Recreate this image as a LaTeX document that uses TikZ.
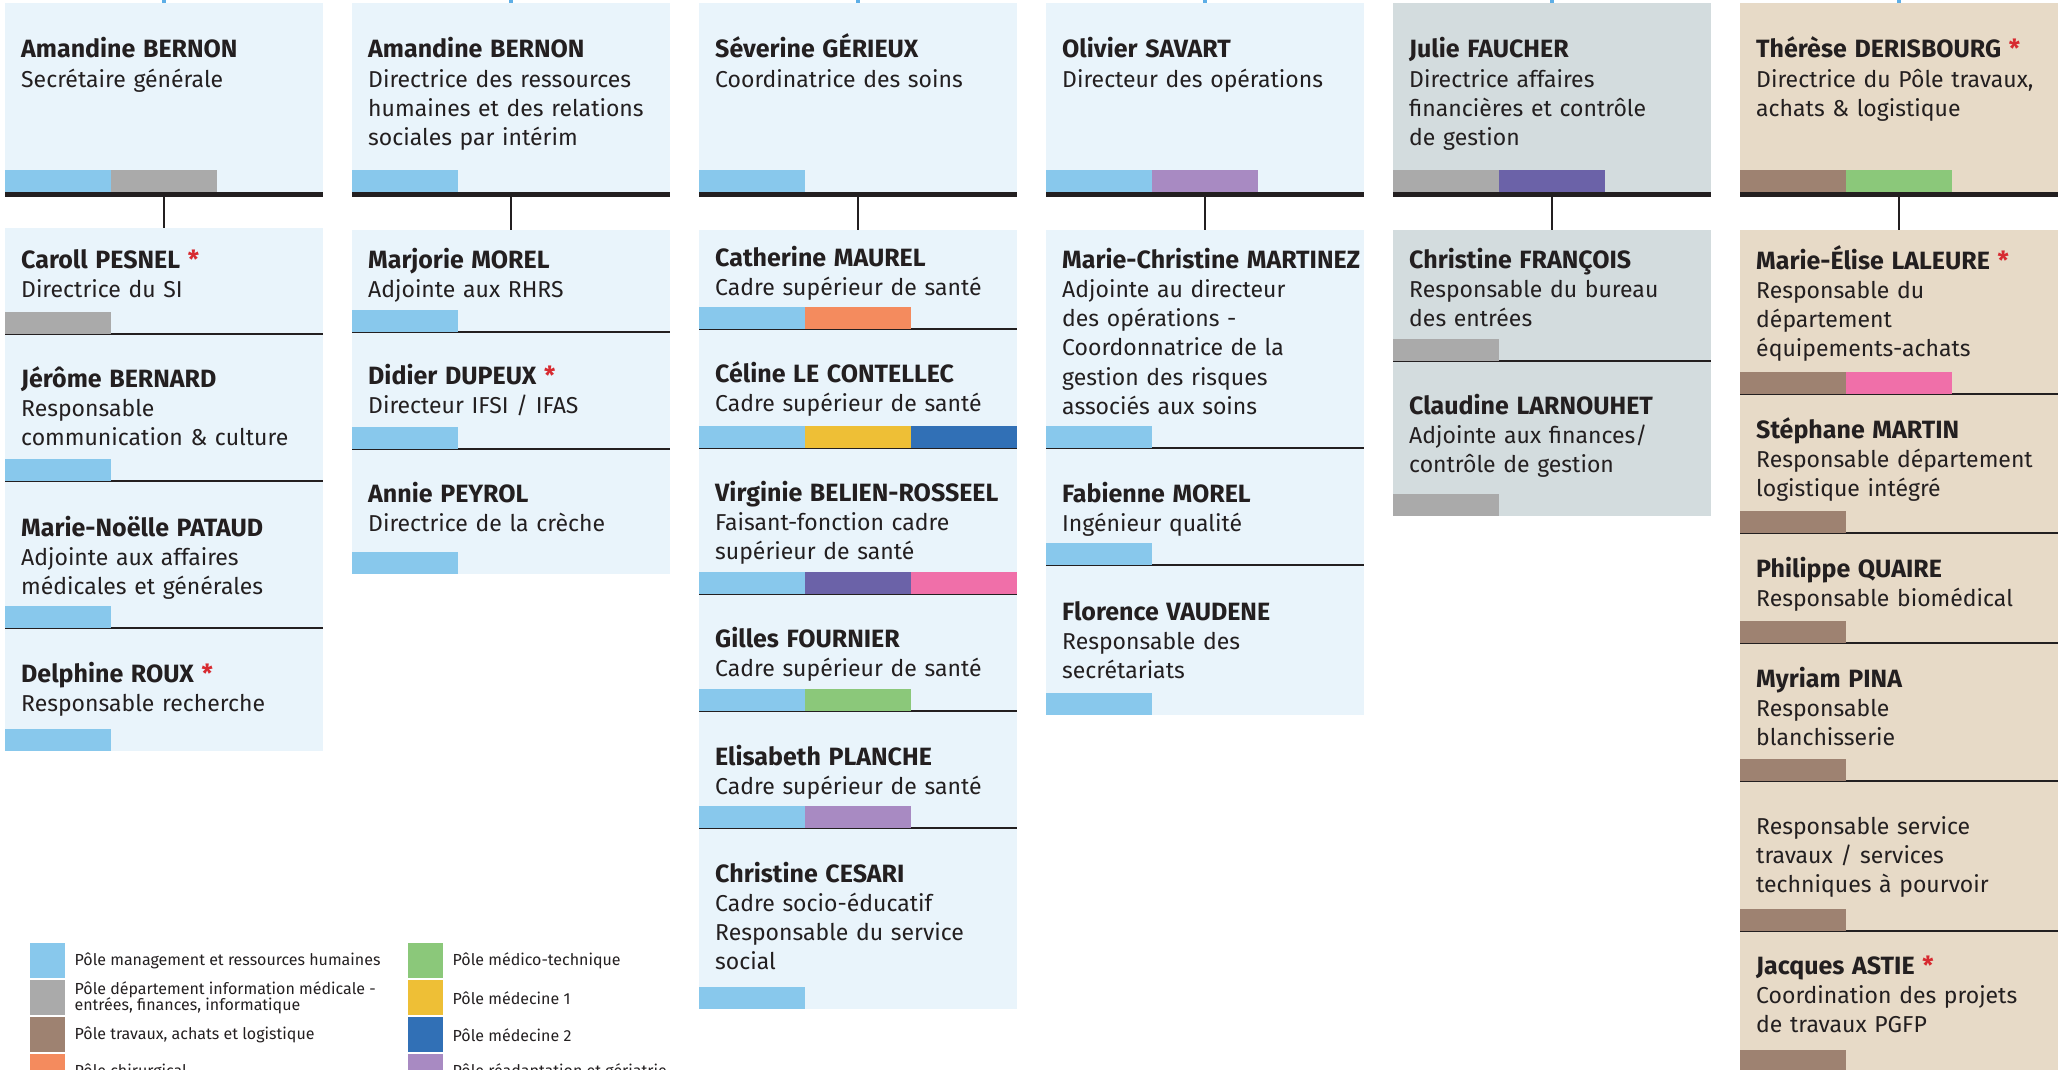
\documentclass[tikz,border=0pt]{standalone}
\usepackage{fontspec}
\setmainfont{Fira Sans}
\usetikzlibrary{positioning}

\definecolor{fondbleu}{HTML}{E9F4FB}
\definecolor{fondgris}{HTML}{D3DCDE}
\definecolor{fondbeige}{HTML}{E7DAC7}
\definecolor{encre}{HTML}{231F20}
\definecolor{rouge}{HTML}{D72A30}
\definecolor{bleufilet}{HTML}{5DAEE6}
\definecolor{pmanag}{HTML}{88C8EC}
\definecolor{pdim}{HTML}{AAAAAA}
\definecolor{ptravaux}{HTML}{9E8271}
\definecolor{pchir}{HTML}{F48B5E}
\definecolor{pmedtech}{HTML}{8BC87A}
\definecolor{pmed1}{HTML}{EEBF36}
\definecolor{pmed2}{HTML}{3170B6}
\definecolor{preadap}{HTML}{A88AC2}
\definecolor{pindigo}{HTML}{6B62A8}
\definecolor{prose}{HTML}{F06FA9}

\newcommand{\nom}[1]{{\fontsize{25}{29.3}\selectfont\bfseries #1}}
\newcommand{\etoile}{\textcolor{rouge}{*}}
\newcommand{\bandes}[2]{\foreach \coul [count=\i from 0] in {#2}
  {\fill[\coul] ([xshift=\i*106pt]#1.south west) rectangle ++(106,-22);}}

\begin{document}
\begin{tikzpicture}[x=1pt, y=-1pt,
    boite/.style={anchor=north west, minimum width=318pt, inner sep=0pt, outer sep=0pt},
    chef/.style={boite, minimum height=189pt},
    txt/.style={anchor=base west, inner sep=0pt, text width=330pt, align=left, text=encre,
      font=\fontsize{23}{29.3}\selectfont},
    lien/.style={draw=encre, line width=2.5pt},
    filet/.style={draw=encre, line width=2pt},
    amont/.style={draw=bleufilet, line width=4pt},
    case/.style={minimum size=35pt, inner sep=0pt, anchor=north west},
    legende/.style={inner sep=0pt, anchor=west, align=left, text=encre,
      font=\fontsize{16}{16.5}\selectfont}]

    \useasboundingbox (0,0) rectangle (2065,1070);
    \clip (0,0) rectangle (2065,1070);

    % Directions
    \node[chef, fill=fondbleu] (h1) at (5,3) {};
    \node[chef, fill=fondbleu] (h2) at (352,3) {};
    \node[chef, fill=fondbleu] (h3) at (699,3) {};
    \node[chef, fill=fondbleu] (h4) at (1046,3) {};
    \node[chef, fill=fondgris] (h5) at (1393,3) {};
    \node[chef, fill=fondbeige] (h6) at (1740,3) {};

    % Colonne 1
    \node[boite, fill=fondbleu, minimum height=106pt] (c1a) at (5,228) {};
    \node[boite, fill=fondbleu, minimum height=147pt, below=0pt of c1a] (c1b) {};
    \node[boite, fill=fondbleu, minimum height=147pt, below=0pt of c1b] (c1c) {};
    \node[boite, fill=fondbleu, minimum height=123pt, below=0pt of c1c] (c1d) {};

    % Colonne 2
    \node[boite, fill=fondbleu, minimum height=102pt] (c2a) at (352,230) {};
    \node[boite, fill=fondbleu, minimum height=117pt, below=0pt of c2a] (c2b) {};
    \node[boite, fill=fondbleu, minimum height=125pt, below=0pt of c2b] (c2c) {};

    % Colonne 3
    \node[boite, fill=fondbleu, minimum height=99pt] (c3a) at (699,230) {};
    \node[boite, fill=fondbleu, minimum height=119pt, below=0pt of c3a] (c3b) {};
    \node[boite, fill=fondbleu, minimum height=146pt, below=0pt of c3b] (c3c) {};
    \node[boite, fill=fondbleu, minimum height=117pt, below=0pt of c3c] (c3d) {};
    \node[boite, fill=fondbleu, minimum height=117pt, below=0pt of c3d] (c3e) {};
    \node[boite, fill=fondbleu, minimum height=181pt, below=0pt of c3e] (c3f) {};

    % Colonne 4
    \node[boite, fill=fondbleu, minimum height=218pt] (c4a) at (1046,230) {};
    \node[boite, fill=fondbleu, minimum height=117pt, below=0pt of c4a] (c4b) {};
    \node[boite, fill=fondbleu, minimum height=150pt, below=0pt of c4b] (c4c) {};

    % Colonne 5
    \node[boite, fill=fondgris, minimum height=131pt] (c5a) at (1393,230) {};
    \node[boite, fill=fondgris, minimum height=155pt, below=0pt of c5a] (c5b) {};

    % Colonne 6
    \node[boite, fill=fondbeige, minimum height=164pt] (c6a) at (1740,230) {};
    \node[boite, fill=fondbeige, minimum height=139pt, below=0pt of c6a] (c6b) {};
    \node[boite, fill=fondbeige, minimum height=110pt, below=0pt of c6b] (c6c) {};
    \node[boite, fill=fondbeige, minimum height=138pt, below=0pt of c6c] (c6d) {};
    \node[boite, fill=fondbeige, minimum height=150pt, below=0pt of c6d] (c6e) {};
    \node[boite, fill=fondbeige, minimum height=141pt, below=0pt of c6e] (c6f) {};

    % Barres et liens
    \foreach \h/\c in {h1/c1a, h2/c2a, h3/c3a, h4/c4a, h5/c5a, h6/c6a} {
        \fill[encre] (\h.south west) rectangle ++(318,5);
        \draw[lien] (\h.south) -- (\c.north);
    }
    \foreach \h [count=\k] in {h1,h2,h3,h4,h5,h6} {
        \coordinate (e\k) at ([yshift=8pt]\h.north);
        \draw[amont] (e\k) -- (\h.north);
    }

    % Filets
    \foreach \c in {c1a,c1b,c1c,c2a,c2b,c3a,c3b,c3c,c3d,c3e,c4a,c4b,c5a,c6a,c6b,c6c,c6d,c6e}
        \draw[filet] (\c.south west) -- (\c.south east);

    % Pôles
    \bandes{h1}{pmanag,pdim}
    \bandes{h2}{pmanag}
    \bandes{h3}{pmanag}
    \bandes{h4}{pmanag,preadap}
    \bandes{h5}{pdim,pindigo}
    \bandes{h6}{ptravaux,pmedtech}
    \bandes{c1a}{pdim}
    \foreach \c in {c1b,c1c,c1d,c2a,c2b,c2c,c3f,c4a,c4b,c4c} {\bandes{\c}{pmanag}}
    \bandes{c3a}{pmanag,pchir}
    \bandes{c3b}{pmanag,pmed1,pmed2}
    \bandes{c3c}{pmanag,pindigo,prose}
    \bandes{c3d}{pmanag,pmedtech}
    \bandes{c3e}{pmanag,preadap}
    \bandes{c5a}{pdim}
    \bandes{c5b}{pdim}
    \bandes{c6a}{ptravaux,prose}
    \foreach \c in {c6b,c6c,c6d,c6e,c6f} {\bandes{\c}{ptravaux}}

    % Textes
    \node[txt] (t1) at (21,58) {\nom{Amandine BERNON}\\Secrétaire générale};
    \node[txt] (t2) at (368,58) {\nom{Amandine BERNON}\\Directrice des ressources\\humaines et des relations\\sociales par intérim};
    \node[txt] (t3) at (715,58) {\nom{Séverine GÉRIEUX}\\Coordinatrice des soins};
    \node[txt] (t4) at (1062,58) {\nom{Olivier SAVART}\\Directeur des opérations};
    \node[txt] (t5) at (1409,58) {\nom{Julie FAUCHER}\\Directrice affaires\\financières et contrôle\\de gestion};
    \node[txt] (t6) at (1756,58) {\nom{Thérèse DERISBOURG \etoile}\\Directrice du Pôle travaux,\\achats \& logistique};

    \node[txt] (t1a) at (21,268) {\nom{Caroll PESNEL \etoile}\\Directrice du SI};
    \node[txt] (t1b) at (21,387) {\nom{Jérôme BERNARD}\\Responsable\\communication \& culture};
    \node[txt] (t1c) at (21,536) {\nom{Marie-Noëlle PATAUD}\\Adjointe aux affaires\\médicales et générales};
    \node[txt] (t1d) at (21,682) {\nom{Delphine ROUX \etoile}\\Responsable recherche};

    \node[txt] (t2a) at (368,268) {\nom{Marjorie MOREL}\\Adjointe aux RHRS};
    \node[txt] (t2b) at (368,384) {\nom{Didier DUPEUX \etoile}\\Directeur IFSI / IFAS};
    \node[txt] (t2c) at (368,502) {\nom{Annie PEYROL}\\Directrice de la crèche};

    \node[txt] (t3a) at (715,266) {\nom{Catherine MAUREL}\\Cadre supérieur de santé};
    \node[txt] (t3b) at (715,382) {\nom{Céline LE CONTELLEC}\\Cadre supérieur de santé};
    \node[txt] (t3c) at (715,501) {\nom{Virginie BELIEN-ROSSEEL}\\Faisant-fonction cadre\\supérieur de santé};
    \node[txt] (t3d) at (715,647) {\nom{Gilles FOURNIER}\\Cadre supérieur de santé};
    \node[txt] (t3e) at (715,765) {\nom{Elisabeth PLANCHE}\\Cadre supérieur de santé};
    \node[txt] (t3f) at (715,882) {\nom{Christine CESARI}\\Cadre socio-éducatif\\Responsable du service\\social};

    \node[txt] (t4a) at (1062,268) {\nom{Marie-Christine MARTINEZ}\\Adjointe au directeur\\des opérations -\\Coordonnatrice de la\\gestion des risques\\associés aux soins};
    \node[txt] (t4b) at (1062,502) {\nom{Fabienne MOREL}\\Ingénieur qualité};
    \node[txt] (t4c) at (1062,620) {\nom{Florence VAUDENE}\\Responsable des\\secrétariats};

    \node[txt] (t5a) at (1409,268) {\nom{Christine FRANÇOIS}\\Responsable du bureau\\des entrées};
    \node[txt] (t5b) at (1409,414) {\nom{Claudine LARNOUHET}\\Adjointe aux finances/\\contrôle de gestion};

    \node[txt] (t6a) at (1756,269) {\nom{Marie-Élise LALEURE \etoile}\\Responsable du\\département\\équipements-achats};
    \node[txt] (t6b) at (1756,438) {\nom{Stéphane MARTIN}\\Responsable département\\logistique intégré};
    \node[txt] (t6c) at (1756,577) {\nom{Philippe QUAIRE}\\Responsable biomédical};
    \node[txt] (t6d) at (1756,687) {\nom{Myriam PINA}\\Responsable\\blanchisserie};
    \node[txt] (t6e) at (1756,834) {Responsable service\\travaux / services\\techniques à pourvoir};
    \node[txt] (t6f) at (1756,974) {\nom{Jacques ASTIE \etoile}\\Coordination des projets\\de travaux PGFP};

    % Légende
    \foreach \n/\coul/\x/\y/\texte in {
        1/pmanag/30/943/{Pôle management et ressources humaines},
        2/pdim/30/980/{Pôle département information médicale -\\entrées, finances, informatique},
        3/ptravaux/30/1017/{Pôle travaux, achats et logistique},
        4/pchir/30/1054/{Pôle chirurgical},
        5/pmedtech/408/943/{Pôle médico-technique},
        6/pmed1/408/980/{Pôle médecine 1},
        7/pmed2/408/1017/{Pôle médecine 2},
        8/preadap/408/1054/{Pôle réadaptation et gériatrie}} {
        \node[case, fill=\coul] (lg\n) at (\x,\y) {};
        \node[legende, right=9pt of lg\n] (lt\n) {\texte};
    }
\end{tikzpicture}
\end{document}
